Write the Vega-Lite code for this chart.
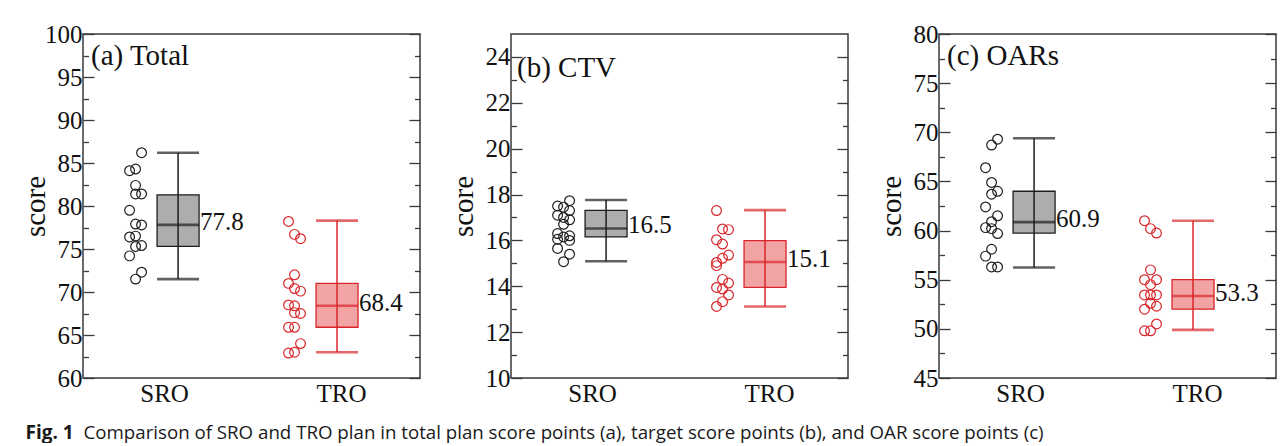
{
  "$schema": "https://vega.github.io/schema/vega-lite/v6.json",
  "background": "white",
  "padding": {"left": 20, "top": 21, "right": 0, "bottom": 0},
  "datasets": {
    "pts": [
      {"panel": "a", "group": "SRO", "score": 86.2, "lane": 1},
      {"panel": "a", "group": "SRO", "score": 84.1, "lane": -1},
      {"panel": "a", "group": "SRO", "score": 84.3, "lane": 0},
      {"panel": "a", "group": "SRO", "score": 82.4, "lane": 0},
      {"panel": "a", "group": "SRO", "score": 81.4, "lane": 0},
      {"panel": "a", "group": "SRO", "score": 81.4, "lane": 1},
      {"panel": "a", "group": "SRO", "score": 79.5, "lane": -1},
      {"panel": "a", "group": "SRO", "score": 77.9, "lane": 0},
      {"panel": "a", "group": "SRO", "score": 77.8, "lane": 1},
      {"panel": "a", "group": "SRO", "score": 76.4, "lane": -1},
      {"panel": "a", "group": "SRO", "score": 76.5, "lane": 0},
      {"panel": "a", "group": "SRO", "score": 75.4, "lane": 1},
      {"panel": "a", "group": "SRO", "score": 75.3, "lane": 0},
      {"panel": "a", "group": "SRO", "score": 74.2, "lane": -1},
      {"panel": "a", "group": "SRO", "score": 72.3, "lane": 1},
      {"panel": "a", "group": "SRO", "score": 71.5, "lane": 0},
      {"panel": "a", "group": "TRO", "score": 78.2, "lane": -1},
      {"panel": "a", "group": "TRO", "score": 76.7, "lane": 0},
      {"panel": "a", "group": "TRO", "score": 76.2, "lane": 1},
      {"panel": "a", "group": "TRO", "score": 72.0, "lane": 0},
      {"panel": "a", "group": "TRO", "score": 71.0, "lane": -1},
      {"panel": "a", "group": "TRO", "score": 70.4, "lane": 0},
      {"panel": "a", "group": "TRO", "score": 70.1, "lane": 1},
      {"panel": "a", "group": "TRO", "score": 68.5, "lane": -1},
      {"panel": "a", "group": "TRO", "score": 68.4, "lane": 0},
      {"panel": "a", "group": "TRO", "score": 67.6, "lane": 0},
      {"panel": "a", "group": "TRO", "score": 67.5, "lane": 1},
      {"panel": "a", "group": "TRO", "score": 65.9, "lane": -1},
      {"panel": "a", "group": "TRO", "score": 65.9, "lane": 0},
      {"panel": "a", "group": "TRO", "score": 64.0, "lane": 1},
      {"panel": "a", "group": "TRO", "score": 62.9, "lane": -1},
      {"panel": "a", "group": "TRO", "score": 63.0, "lane": 0},
      {"panel": "b", "group": "SRO", "score": 17.73, "lane": 1},
      {"panel": "b", "group": "SRO", "score": 17.5, "lane": -1},
      {"panel": "b", "group": "SRO", "score": 17.45, "lane": 0},
      {"panel": "b", "group": "SRO", "score": 17.3, "lane": 1},
      {"panel": "b", "group": "SRO", "score": 17.1, "lane": -1},
      {"panel": "b", "group": "SRO", "score": 17.0, "lane": 0},
      {"panel": "b", "group": "SRO", "score": 16.9, "lane": 1},
      {"panel": "b", "group": "SRO", "score": 16.7, "lane": 0},
      {"panel": "b", "group": "SRO", "score": 16.3, "lane": -1},
      {"panel": "b", "group": "SRO", "score": 16.2, "lane": 1},
      {"panel": "b", "group": "SRO", "score": 16.15, "lane": 0},
      {"panel": "b", "group": "SRO", "score": 16.05, "lane": -1},
      {"panel": "b", "group": "SRO", "score": 16.0, "lane": 1},
      {"panel": "b", "group": "SRO", "score": 15.65, "lane": -1},
      {"panel": "b", "group": "SRO", "score": 15.4, "lane": 1},
      {"panel": "b", "group": "SRO", "score": 15.07, "lane": 0},
      {"panel": "b", "group": "TRO", "score": 17.3, "lane": -1},
      {"panel": "b", "group": "TRO", "score": 16.5, "lane": 0},
      {"panel": "b", "group": "TRO", "score": 16.47, "lane": 1},
      {"panel": "b", "group": "TRO", "score": 16.03, "lane": -1},
      {"panel": "b", "group": "TRO", "score": 15.84, "lane": 0},
      {"panel": "b", "group": "TRO", "score": 15.36, "lane": 1},
      {"panel": "b", "group": "TRO", "score": 15.22, "lane": 0},
      {"panel": "b", "group": "TRO", "score": 15.04, "lane": -1},
      {"panel": "b", "group": "TRO", "score": 14.9, "lane": -1},
      {"panel": "b", "group": "TRO", "score": 14.3, "lane": 0},
      {"panel": "b", "group": "TRO", "score": 14.14, "lane": 1},
      {"panel": "b", "group": "TRO", "score": 13.95, "lane": -1},
      {"panel": "b", "group": "TRO", "score": 13.88, "lane": 0},
      {"panel": "b", "group": "TRO", "score": 13.62, "lane": 1},
      {"panel": "b", "group": "TRO", "score": 13.33, "lane": 0},
      {"panel": "b", "group": "TRO", "score": 13.12, "lane": -1},
      {"panel": "c", "group": "SRO", "score": 69.3, "lane": 1},
      {"panel": "c", "group": "SRO", "score": 68.7, "lane": 0},
      {"panel": "c", "group": "SRO", "score": 66.4, "lane": -1},
      {"panel": "c", "group": "SRO", "score": 64.9, "lane": 0},
      {"panel": "c", "group": "SRO", "score": 64.0, "lane": 1},
      {"panel": "c", "group": "SRO", "score": 63.7, "lane": 0},
      {"panel": "c", "group": "SRO", "score": 62.4, "lane": -1},
      {"panel": "c", "group": "SRO", "score": 61.5, "lane": 1},
      {"panel": "c", "group": "SRO", "score": 60.9, "lane": 0},
      {"panel": "c", "group": "SRO", "score": 60.3, "lane": -1},
      {"panel": "c", "group": "SRO", "score": 60.2, "lane": 0},
      {"panel": "c", "group": "SRO", "score": 59.7, "lane": 1},
      {"panel": "c", "group": "SRO", "score": 58.1, "lane": 0},
      {"panel": "c", "group": "SRO", "score": 57.4, "lane": -1},
      {"panel": "c", "group": "SRO", "score": 56.3, "lane": 0},
      {"panel": "c", "group": "SRO", "score": 56.3, "lane": 1},
      {"panel": "c", "group": "TRO", "score": 61.0, "lane": -1},
      {"panel": "c", "group": "TRO", "score": 60.2, "lane": 0},
      {"panel": "c", "group": "TRO", "score": 59.75, "lane": 1},
      {"panel": "c", "group": "TRO", "score": 56.0, "lane": 0},
      {"panel": "c", "group": "TRO", "score": 55.0, "lane": -1},
      {"panel": "c", "group": "TRO", "score": 55.0, "lane": 1},
      {"panel": "c", "group": "TRO", "score": 54.5, "lane": 0},
      {"panel": "c", "group": "TRO", "score": 53.45, "lane": -1},
      {"panel": "c", "group": "TRO", "score": 53.45, "lane": 0},
      {"panel": "c", "group": "TRO", "score": 53.45, "lane": 1},
      {"panel": "c", "group": "TRO", "score": 52.6, "lane": 0},
      {"panel": "c", "group": "TRO", "score": 52.0, "lane": -1},
      {"panel": "c", "group": "TRO", "score": 52.3, "lane": 1},
      {"panel": "c", "group": "TRO", "score": 50.5, "lane": 1},
      {"panel": "c", "group": "TRO", "score": 49.8, "lane": -1},
      {"panel": "c", "group": "TRO", "score": 49.8, "lane": 0}
    ],
    "stats": [
      {"panel": "a", "group": "SRO", "min": 71.5, "q1": 75.3, "median": 77.8, "q3": 81.3, "max": 86.2},
      {"panel": "a", "group": "TRO", "min": 63.0, "q1": 65.9, "median": 68.4, "q3": 71.0, "max": 78.3},
      {"panel": "b", "group": "SRO", "min": 15.09, "q1": 16.15, "median": 16.52, "q3": 17.31, "max": 17.76},
      {"panel": "b", "group": "TRO", "min": 13.12, "q1": 13.95, "median": 15.06, "q3": 15.99, "max": 17.32},
      {"panel": "c", "group": "SRO", "min": 56.25, "q1": 59.75, "median": 60.86, "q3": 64.0, "max": 69.4},
      {"panel": "c", "group": "TRO", "min": 49.9, "q1": 52.0, "median": 53.34, "q3": 55.0, "max": 61.0}
    ]
  },
  "spacing": 91,
  "bounds": "flush",
  "hconcat": [
    {
      "width": 337, "height": 344,
      "title": {"text": "(a) Total", "orient": "top", "anchor": "start", "frame": "group", "offset": 0, "dx": 8, "dy": 72, "baseline": "alphabetic", "fontSize": 29, "font": "Liberation Serif", "fontWeight": "normal", "color": "#111"},
      "resolve": {"axis": {"y": "independent"}},
      "layer": [
        {"data": {"name": "stats"}, "transform": [{"filter": "datum.panel === 'a'"}], "mark": {"type": "point", "opacity": 0},
         "encoding": {"x": {"field": "group", "type": "nominal"}, "y": {"field": "median", "type": "quantitative", "scale": {"domain": [60, 100], "nice": false, "zero": false},
           "axis": {"orient": "left", "values": [60, 65, 70, 75, 80, 85, 90, 95, 100], "ticks": false, "tickSize": 0, "labelPadding": 1, "title": "score", "titleX": -39, "titleBaseline": "alphabetic"}}}},
        {"data": {"name": "stats"}, "transform": [{"filter": "datum.panel === 'a'"}], "mark": {"type": "point", "opacity": 0},
         "encoding": {"x": {"field": "group", "type": "nominal"}, "y": {"field": "median", "type": "quantitative", "axis": {"orient": "left", "values": [60, 65, 70, 75, 80, 85, 90, 95, 100], "labels": false, "tickSize": -11, "title": null}}}},
        {"data": {"name": "stats"}, "transform": [{"filter": "datum.panel === 'a'"}], "mark": {"type": "point", "opacity": 0},
         "encoding": {"x": {"field": "group", "type": "nominal"}, "y": {"field": "median", "type": "quantitative", "axis": {"orient": "left", "values": [62.5, 67.5, 72.5, 77.5, 82.5, 87.5, 92.5, 97.5], "labels": false, "tickSize": -5.5, "title": null}}}},
        {"data": {"name": "stats"}, "transform": [{"filter": "datum.panel === 'a'"}], "mark": {"type": "point", "opacity": 0},
         "encoding": {"x": {"field": "group", "type": "nominal"}, "y": {"field": "median", "type": "quantitative", "axis": {"orient": "right", "values": [60, 65, 70, 75, 80, 85, 90, 95, 100], "labels": false, "tickSize": -11, "title": null}}}},
        {"data": {"name": "stats"}, "transform": [{"filter": "datum.panel === 'a'"}], "mark": {"type": "point", "opacity": 0},
         "encoding": {"x": {"field": "group", "type": "nominal"}, "y": {"field": "median", "type": "quantitative", "axis": {"orient": "right", "values": [62.5, 67.5, 72.5, 77.5, 82.5, 87.5, 92.5, 97.5], "labels": false, "tickSize": -5.5, "title": null}}}},
        {"data": {"name": "stats"}, "transform": [{"filter": "datum.panel === 'a'"}],
         "mark": {"type": "bar", "size": 42, "strokeWidth": 1.3},
         "encoding": {"x": {"field": "group", "type": "nominal", "scale": {"type": "point", "domain": ["SRO", "TRO"], "padding": 0.56, "align": 0.534},
             "axis": {"orient": "bottom", "ticks": false, "domain": false, "labelAngle": 0, "labelAlign": "center", "labelBaseline": "top", "labelPadding": 3, "labelOffset": {"condition": {"test": "datum.value === 'SRO'", "value": -14}, "value": 4},
               "title": "Fig. 1", "titleFont": "Open Sans", "titleFontSize": 19, "titleFontWeight": "bold", "titleColor": "#1a1a1a", "titleAlign": "left", "titleAnchor": "start", "titleBaseline": "alphabetic", "titleX": -58, "titleY": 60}},
           "y": {"field": "q1", "type": "quantitative", "axis": null},
           "y2": {"field": "q3"},
           "fill": {"field": "group", "type": "nominal", "scale": {"domain": ["SRO", "TRO"], "range": ["#adadad", "#f2a3a3"]}, "legend": null},
           "stroke": {"field": "group", "type": "nominal", "scale": {"domain": ["SRO", "TRO"], "range": ["#1e1e1e", "#d9262b"]}, "legend": null}}},
        {"data": {"name": "stats"}, "transform": [{"filter": "datum.panel === 'a'"}],
         "mark": {"type": "rule", "strokeWidth": 1.5},
         "encoding": {"x": {"field": "group", "type": "nominal"},
           "y": {"field": "min", "type": "quantitative", "axis": null},
           "y2": {"field": "max"},
           "color": {"field": "group", "type": "nominal", "scale": {"domain": ["SRO", "TRO"], "range": ["#1e1e1e", "#d9262b"]}, "legend": null}}},
        {"data": {"name": "stats"}, "transform": [{"filter": "datum.panel === 'a'"}, {"fold": ["min", "max", "median"], "as": ["k", "v"]}],
         "mark": {"type": "tick", "orient": "horizontal", "size": 42, "thickness": 2.6},
         "encoding": {"x": {"field": "group", "type": "nominal"},
           "y": {"field": "v", "type": "quantitative", "axis": null},
           "color": {"field": "group", "type": "nominal", "legend": null}}},
        {"data": {"name": "stats"}, "transform": [{"filter": "datum.panel === 'a'"}],
         "mark": {"type": "text", "align": "left", "baseline": "middle", "dx": 22, "dy": -3, "fontSize": 25, "font": "Liberation Serif", "color": "#111"},
         "encoding": {"x": {"field": "group", "type": "nominal"},
           "y": {"field": "median", "type": "quantitative", "axis": null},
           "text": {"field": "median", "type": "quantitative", "format": ".1f"}}},
        {"data": {"name": "pts"}, "transform": [{"filter": "datum.panel === 'a' && datum.lane === -1"}],
         "mark": {"type": "point", "shape": "circle", "filled": false, "size": 95, "strokeWidth": 1.2, "opacity": 1, "xOffset": -48.5},
         "encoding": {"x": {"field": "group", "type": "nominal"}, "y": {"field": "score", "type": "quantitative", "axis": null}, "color": {"field": "group", "type": "nominal", "legend": null}}},
        {"data": {"name": "pts"}, "transform": [{"filter": "datum.panel === 'a' && datum.lane === 0"}],
         "mark": {"type": "point", "shape": "circle", "filled": false, "size": 95, "strokeWidth": 1.2, "opacity": 1, "xOffset": -42.5},
         "encoding": {"x": {"field": "group", "type": "nominal"}, "y": {"field": "score", "type": "quantitative", "axis": null}, "color": {"field": "group", "type": "nominal", "legend": null}}},
        {"data": {"name": "pts"}, "transform": [{"filter": "datum.panel === 'a' && datum.lane === 1"}],
         "mark": {"type": "point", "shape": "circle", "filled": false, "size": 95, "strokeWidth": 1.2, "opacity": 1, "xOffset": -36.5},
         "encoding": {"x": {"field": "group", "type": "nominal"}, "y": {"field": "score", "type": "quantitative", "axis": null}, "color": {"field": "group", "type": "nominal", "legend": null}}}
      ]
    },
    {
      "width": 337, "height": 344,
      "title": {"text": "(b) CTV", "orient": "top", "anchor": "start", "frame": "group", "offset": 0, "dx": 6, "dy": 72, "baseline": "alphabetic", "fontSize": 29, "font": "Liberation Serif", "fontWeight": "normal", "color": "#111"},
      "resolve": {"axis": {"y": "independent"}},
      "layer": [
        {"data": {"name": "stats"}, "transform": [{"filter": "datum.panel === 'b'"}], "mark": {"type": "point", "opacity": 0},
         "encoding": {"x": {"field": "group", "type": "nominal"}, "y": {"field": "median", "type": "quantitative", "scale": {"domain": [10, 25], "nice": false, "zero": false},
           "axis": {"orient": "left", "values": [10, 12, 14, 16, 18, 20, 22, 24], "ticks": false, "tickSize": 0, "labelPadding": 1, "title": "score", "titleX": -39, "titleBaseline": "alphabetic"}}}},
        {"data": {"name": "stats"}, "transform": [{"filter": "datum.panel === 'b'"}], "mark": {"type": "point", "opacity": 0},
         "encoding": {"x": {"field": "group", "type": "nominal"}, "y": {"field": "median", "type": "quantitative", "axis": {"orient": "left", "values": [10, 12, 14, 16, 18, 20, 22, 24], "labels": false, "tickSize": -11, "title": null}}}},
        {"data": {"name": "stats"}, "transform": [{"filter": "datum.panel === 'b'"}], "mark": {"type": "point", "opacity": 0},
         "encoding": {"x": {"field": "group", "type": "nominal"}, "y": {"field": "median", "type": "quantitative", "axis": {"orient": "left", "values": [11, 13, 15, 17, 19, 21, 23], "labels": false, "tickSize": -5.5, "title": null}}}},
        {"data": {"name": "stats"}, "transform": [{"filter": "datum.panel === 'b'"}], "mark": {"type": "point", "opacity": 0},
         "encoding": {"x": {"field": "group", "type": "nominal"}, "y": {"field": "median", "type": "quantitative", "axis": {"orient": "right", "values": [10, 12, 14, 16, 18, 20, 22, 24], "labels": false, "tickSize": -11, "title": null}}}},
        {"data": {"name": "stats"}, "transform": [{"filter": "datum.panel === 'b'"}], "mark": {"type": "point", "opacity": 0},
         "encoding": {"x": {"field": "group", "type": "nominal"}, "y": {"field": "median", "type": "quantitative", "axis": {"orient": "right", "values": [11, 13, 15, 17, 19, 21, 23], "labels": false, "tickSize": -5.5, "title": null}}}},
        {"data": {"name": "stats"}, "transform": [{"filter": "datum.panel === 'b'"}],
         "mark": {"type": "bar", "size": 42, "strokeWidth": 1.3},
         "encoding": {"x": {"field": "group", "type": "nominal", "scale": {"type": "point", "domain": ["SRO", "TRO"], "padding": 0.56, "align": 0.534},
             "axis": {"orient": "bottom", "ticks": false, "domain": false, "labelAngle": 0, "labelAlign": "center", "labelBaseline": "top", "labelPadding": 3, "labelOffset": {"condition": {"test": "datum.value === 'SRO'", "value": -14}, "value": 4},
               "title": "Comparison of SRO and TRO plan in total plan score points (a), target score points (b), and OAR score points (c)", "titleFont": "Open Sans", "titleFontSize": 18.7, "titleFontWeight": "normal", "titleColor": "#1a1a1a", "titleAlign": "left", "titleAnchor": "start", "titleBaseline": "alphabetic", "titleX": -428, "titleY": 60, "titleLimit": 1200}},
           "y": {"field": "q1", "type": "quantitative", "axis": null},
           "y2": {"field": "q3"},
           "fill": {"field": "group", "type": "nominal", "scale": {"domain": ["SRO", "TRO"], "range": ["#adadad", "#f2a3a3"]}, "legend": null},
           "stroke": {"field": "group", "type": "nominal", "scale": {"domain": ["SRO", "TRO"], "range": ["#1e1e1e", "#d9262b"]}, "legend": null}}},
        {"data": {"name": "stats"}, "transform": [{"filter": "datum.panel === 'b'"}],
         "mark": {"type": "rule", "strokeWidth": 1.5},
         "encoding": {"x": {"field": "group", "type": "nominal"},
           "y": {"field": "min", "type": "quantitative", "axis": null},
           "y2": {"field": "max"},
           "color": {"field": "group", "type": "nominal", "scale": {"domain": ["SRO", "TRO"], "range": ["#1e1e1e", "#d9262b"]}, "legend": null}}},
        {"data": {"name": "stats"}, "transform": [{"filter": "datum.panel === 'b'"}, {"fold": ["min", "max", "median"], "as": ["k", "v"]}],
         "mark": {"type": "tick", "orient": "horizontal", "size": 42, "thickness": 2.6},
         "encoding": {"x": {"field": "group", "type": "nominal"},
           "y": {"field": "v", "type": "quantitative", "axis": null},
           "color": {"field": "group", "type": "nominal", "legend": null}}},
        {"data": {"name": "stats"}, "transform": [{"filter": "datum.panel === 'b'"}],
         "mark": {"type": "text", "align": "left", "baseline": "middle", "dx": 22, "dy": -3, "fontSize": 25, "font": "Liberation Serif", "color": "#111"},
         "encoding": {"x": {"field": "group", "type": "nominal"},
           "y": {"field": "median", "type": "quantitative", "axis": null},
           "text": {"field": "median", "type": "quantitative", "format": ".1f"}}},
        {"data": {"name": "pts"}, "transform": [{"filter": "datum.panel === 'b' && datum.lane === -1"}],
         "mark": {"type": "point", "shape": "circle", "filled": false, "size": 95, "strokeWidth": 1.2, "opacity": 1, "xOffset": -48.5},
         "encoding": {"x": {"field": "group", "type": "nominal"}, "y": {"field": "score", "type": "quantitative", "axis": null}, "color": {"field": "group", "type": "nominal", "legend": null}}},
        {"data": {"name": "pts"}, "transform": [{"filter": "datum.panel === 'b' && datum.lane === 0"}],
         "mark": {"type": "point", "shape": "circle", "filled": false, "size": 95, "strokeWidth": 1.2, "opacity": 1, "xOffset": -42.5},
         "encoding": {"x": {"field": "group", "type": "nominal"}, "y": {"field": "score", "type": "quantitative", "axis": null}, "color": {"field": "group", "type": "nominal", "legend": null}}},
        {"data": {"name": "pts"}, "transform": [{"filter": "datum.panel === 'b' && datum.lane === 1"}],
         "mark": {"type": "point", "shape": "circle", "filled": false, "size": 95, "strokeWidth": 1.2, "opacity": 1, "xOffset": -36.5},
         "encoding": {"x": {"field": "group", "type": "nominal"}, "y": {"field": "score", "type": "quantitative", "axis": null}, "color": {"field": "group", "type": "nominal", "legend": null}}}
      ]
    },
    {
      "width": 337, "height": 344,
      "title": {"text": "(c) OARs", "orient": "top", "anchor": "start", "frame": "group", "offset": 0, "dx": 8, "dy": 72, "baseline": "alphabetic", "fontSize": 29, "font": "Liberation Serif", "fontWeight": "normal", "color": "#111"},
      "resolve": {"axis": {"y": "independent"}},
      "layer": [
        {"data": {"name": "stats"}, "transform": [{"filter": "datum.panel === 'c'"}], "mark": {"type": "point", "opacity": 0},
         "encoding": {"x": {"field": "group", "type": "nominal"}, "y": {"field": "median", "type": "quantitative", "scale": {"domain": [45, 80], "nice": false, "zero": false},
           "axis": {"orient": "left", "values": [45, 50, 55, 60, 65, 70, 75, 80], "ticks": false, "tickSize": 0, "labelPadding": 1, "title": "score", "titleX": -39, "titleBaseline": "alphabetic"}}}},
        {"data": {"name": "stats"}, "transform": [{"filter": "datum.panel === 'c'"}], "mark": {"type": "point", "opacity": 0},
         "encoding": {"x": {"field": "group", "type": "nominal"}, "y": {"field": "median", "type": "quantitative", "axis": {"orient": "left", "values": [45, 50, 55, 60, 65, 70, 75, 80], "labels": false, "tickSize": -11, "title": null}}}},
        {"data": {"name": "stats"}, "transform": [{"filter": "datum.panel === 'c'"}], "mark": {"type": "point", "opacity": 0},
         "encoding": {"x": {"field": "group", "type": "nominal"}, "y": {"field": "median", "type": "quantitative", "axis": {"orient": "left", "values": [47.5, 52.5, 57.5, 62.5, 67.5, 72.5, 77.5], "labels": false, "tickSize": -5.5, "title": null}}}},
        {"data": {"name": "stats"}, "transform": [{"filter": "datum.panel === 'c'"}], "mark": {"type": "point", "opacity": 0},
         "encoding": {"x": {"field": "group", "type": "nominal"}, "y": {"field": "median", "type": "quantitative", "axis": {"orient": "right", "values": [45, 50, 55, 60, 65, 70, 75, 80], "labels": false, "tickSize": -11, "title": null}}}},
        {"data": {"name": "stats"}, "transform": [{"filter": "datum.panel === 'c'"}], "mark": {"type": "point", "opacity": 0},
         "encoding": {"x": {"field": "group", "type": "nominal"}, "y": {"field": "median", "type": "quantitative", "axis": {"orient": "right", "values": [47.5, 52.5, 57.5, 62.5, 67.5, 72.5, 77.5], "labels": false, "tickSize": -5.5, "title": null}}}},
        {"data": {"name": "stats"}, "transform": [{"filter": "datum.panel === 'c'"}],
         "mark": {"type": "bar", "size": 42, "strokeWidth": 1.3},
         "encoding": {"x": {"field": "group", "type": "nominal", "scale": {"type": "point", "domain": ["SRO", "TRO"], "padding": 0.56, "align": 0.534},
             "axis": {"orient": "bottom", "ticks": false, "domain": false, "title": null, "labelAngle": 0, "labelAlign": "center", "labelBaseline": "top", "labelPadding": 3, "labelOffset": {"condition": {"test": "datum.value === 'SRO'", "value": -14}, "value": 4}}},
           "y": {"field": "q1", "type": "quantitative", "axis": null},
           "y2": {"field": "q3"},
           "fill": {"field": "group", "type": "nominal", "scale": {"domain": ["SRO", "TRO"], "range": ["#adadad", "#f2a3a3"]}, "legend": null},
           "stroke": {"field": "group", "type": "nominal", "scale": {"domain": ["SRO", "TRO"], "range": ["#1e1e1e", "#d9262b"]}, "legend": null}}},
        {"data": {"name": "stats"}, "transform": [{"filter": "datum.panel === 'c'"}],
         "mark": {"type": "rule", "strokeWidth": 1.5},
         "encoding": {"x": {"field": "group", "type": "nominal"},
           "y": {"field": "min", "type": "quantitative", "axis": null},
           "y2": {"field": "max"},
           "color": {"field": "group", "type": "nominal", "scale": {"domain": ["SRO", "TRO"], "range": ["#1e1e1e", "#d9262b"]}, "legend": null}}},
        {"data": {"name": "stats"}, "transform": [{"filter": "datum.panel === 'c'"}, {"fold": ["min", "max", "median"], "as": ["k", "v"]}],
         "mark": {"type": "tick", "orient": "horizontal", "size": 42, "thickness": 2.6},
         "encoding": {"x": {"field": "group", "type": "nominal"},
           "y": {"field": "v", "type": "quantitative", "axis": null},
           "color": {"field": "group", "type": "nominal", "legend": null}}},
        {"data": {"name": "stats"}, "transform": [{"filter": "datum.panel === 'c'"}],
         "mark": {"type": "text", "align": "left", "baseline": "middle", "dx": 22, "dy": -3, "fontSize": 25, "font": "Liberation Serif", "color": "#111"},
         "encoding": {"x": {"field": "group", "type": "nominal"},
           "y": {"field": "median", "type": "quantitative", "axis": null},
           "text": {"field": "median", "type": "quantitative", "format": ".1f"}}},
        {"data": {"name": "pts"}, "transform": [{"filter": "datum.panel === 'c' && datum.lane === -1"}],
         "mark": {"type": "point", "shape": "circle", "filled": false, "size": 95, "strokeWidth": 1.2, "opacity": 1, "xOffset": -48.5},
         "encoding": {"x": {"field": "group", "type": "nominal"}, "y": {"field": "score", "type": "quantitative", "axis": null}, "color": {"field": "group", "type": "nominal", "legend": null}}},
        {"data": {"name": "pts"}, "transform": [{"filter": "datum.panel === 'c' && datum.lane === 0"}],
         "mark": {"type": "point", "shape": "circle", "filled": false, "size": 95, "strokeWidth": 1.2, "opacity": 1, "xOffset": -42.5},
         "encoding": {"x": {"field": "group", "type": "nominal"}, "y": {"field": "score", "type": "quantitative", "axis": null}, "color": {"field": "group", "type": "nominal", "legend": null}}},
        {"data": {"name": "pts"}, "transform": [{"filter": "datum.panel === 'c' && datum.lane === 1"}],
         "mark": {"type": "point", "shape": "circle", "filled": false, "size": 95, "strokeWidth": 1.2, "opacity": 1, "xOffset": -36.5},
         "encoding": {"x": {"field": "group", "type": "nominal"}, "y": {"field": "score", "type": "quantitative", "axis": null}, "color": {"field": "group", "type": "nominal", "legend": null}}}
      ]
    }
  ],
  "config": {
    "font": "Liberation Serif",
    "view": {"stroke": "#3a3a3a", "strokeWidth": 1.5},
    "axis": {"grid": true, "gridOpacity": 0, "domain": false, "labelFont": "Liberation Serif", "labelFontSize": 25, "labelColor": "#111", "titleFont": "Liberation Serif", "titleFontSize": 29, "titleFontWeight": "normal", "titleColor": "#111", "tickColor": "#3a3a3a", "tickWidth": 1.3}
  }
}
